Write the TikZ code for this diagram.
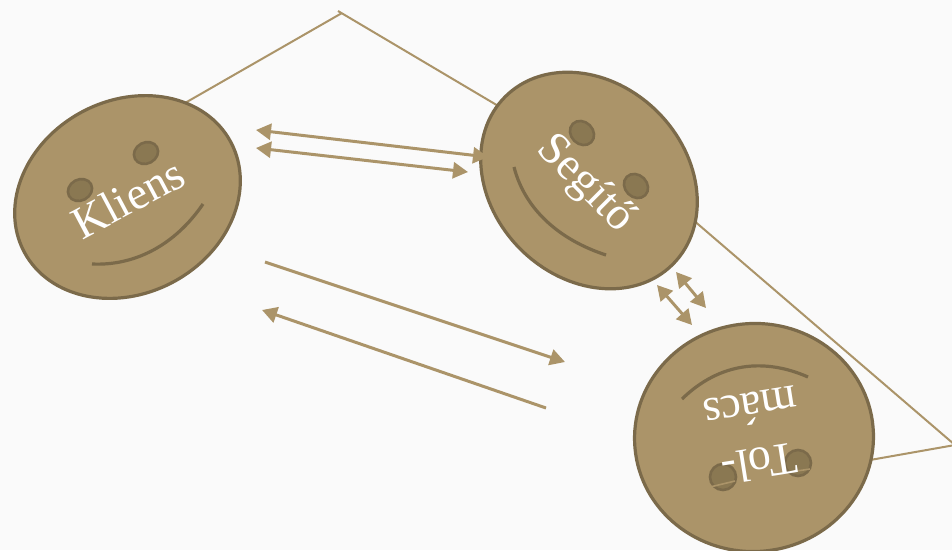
\documentclass[tikz,border=0pt]{standalone}
\usepackage{fontspec}
\setmainfont{Liberation Serif}
\usetikzlibrary{arrows.meta}
\definecolor{tan}{HTML}{AB9469}
\definecolor{rimc}{HTML}{7B6A4A}
\definecolor{eyec}{HTML}{8A7852}
\definecolor{paper}{HTML}{FAFAFA}
\tikzset{
  x=1pt,y=-1pt,
  face/.style={draw=rimc,line width=3.2pt,fill=tan},
  eye/.style={draw=rimc,line width=2.6pt,fill=eyec},
  smile/.style={draw=rimc,line width=3.2pt},
  thin line/.style={draw=tan,line width=2pt},
  glint/.style={draw=tan,line width=1.6pt},
  arrow/.style={draw=tan,line width=3pt,{Triangle[length=15pt,width=16pt]}-{Triangle[length=15pt,width=16pt]}},
  oneway/.style={draw=tan,line width=3pt,-{Triangle[length=15pt,width=16pt]}},
  label/.style={text=white,font=\fontsize{46}{46}\selectfont,align=center,inner sep=0pt}
}
\begin{document}
\begin{tikzpicture}
\useasboundingbox (0,0) rectangle (952,550);
\fill[paper] (0,0) rectangle (952,550);
\coordinate (apex) at (342,13);
\coordinate (apexover) at (338,11);
\coordinate (corner) at (955,445);
\draw[thin line] (185,103) -- (apex);
\draw[thin line] (apexover) -- (500,107);
\draw[thin line] (692,219) -- (corner) -- (870,460);
\draw[face,rotate around={28:(127.5,197)}] (127.5,197) ellipse [x radius=117,y radius=96.5];
\draw[face,rotate around={-45:(589,180.5)}] (589,180.5) ellipse [x radius=118.5,y radius=97];
\draw[face,rotate around={5:(754,437.5)}] (754,437.5) ellipse [x radius=119.5,y radius=114];
\draw[eye,rotate around={28:(80,190)}] (80,190) ellipse [x radius=12.5,y radius=10.5];
\draw[eye,rotate around={28:(146,153)}] (146,153) ellipse [x radius=12.5,y radius=10.5];
\draw[eye,rotate around={-45:(582,133)}] (582,133) ellipse [x radius=13,y radius=11];
\draw[eye,rotate around={-45:(636,186)}] (636,186) ellipse [x radius=13,y radius=11];
\draw[eye] (723,477) circle [radius=13];
\draw[eye] (798,463) circle [radius=13];
\draw[glint] (710,487) -- (735,481);
\draw[glint] (790,472) -- (810,469);
\draw[smile] (92,264) .. controls (135,266) and (175,245) .. (203,204);
\draw[smile] (514,167) .. controls (525,210) and (560,240) .. (606,255);
\draw[smile] (682,399) .. controls (720,362) and (765,358) .. (808,377);
\node[label,rotate=28] (kliens) at (128,198) {Kliens};
\node[label,rotate=-45] (segito) at (585,184) {Segítő};
\node[label,rotate=189] (tolmacs) at (755,436) {Tol-\\[10pt]mács};
\coordinate (a1s) at (256,130); \coordinate (a1e) at (488,157);
\coordinate (a2s) at (256,148); \coordinate (a2e) at (468,172);
\draw[arrow] (a1s) -- (a1e);
\draw[arrow] (a2s) -- (a2e);
\coordinate (b1s) at (265,262); \coordinate (b1e) at (565,362);
\coordinate (b2s) at (546,408); \coordinate (b2e) at (262,310);
\draw[oneway] (b1s) -- (b1e);
\draw[oneway] (b2s) -- (b2e);
\coordinate (c1s) at (657,285); \coordinate (c1e) at (692,325);
\coordinate (c2s) at (676,272); \coordinate (c2e) at (706,308);
\draw[arrow] (c1s) -- (c1e);
\draw[arrow] (c2s) -- (c2e);
\end{tikzpicture}
\end{document}
